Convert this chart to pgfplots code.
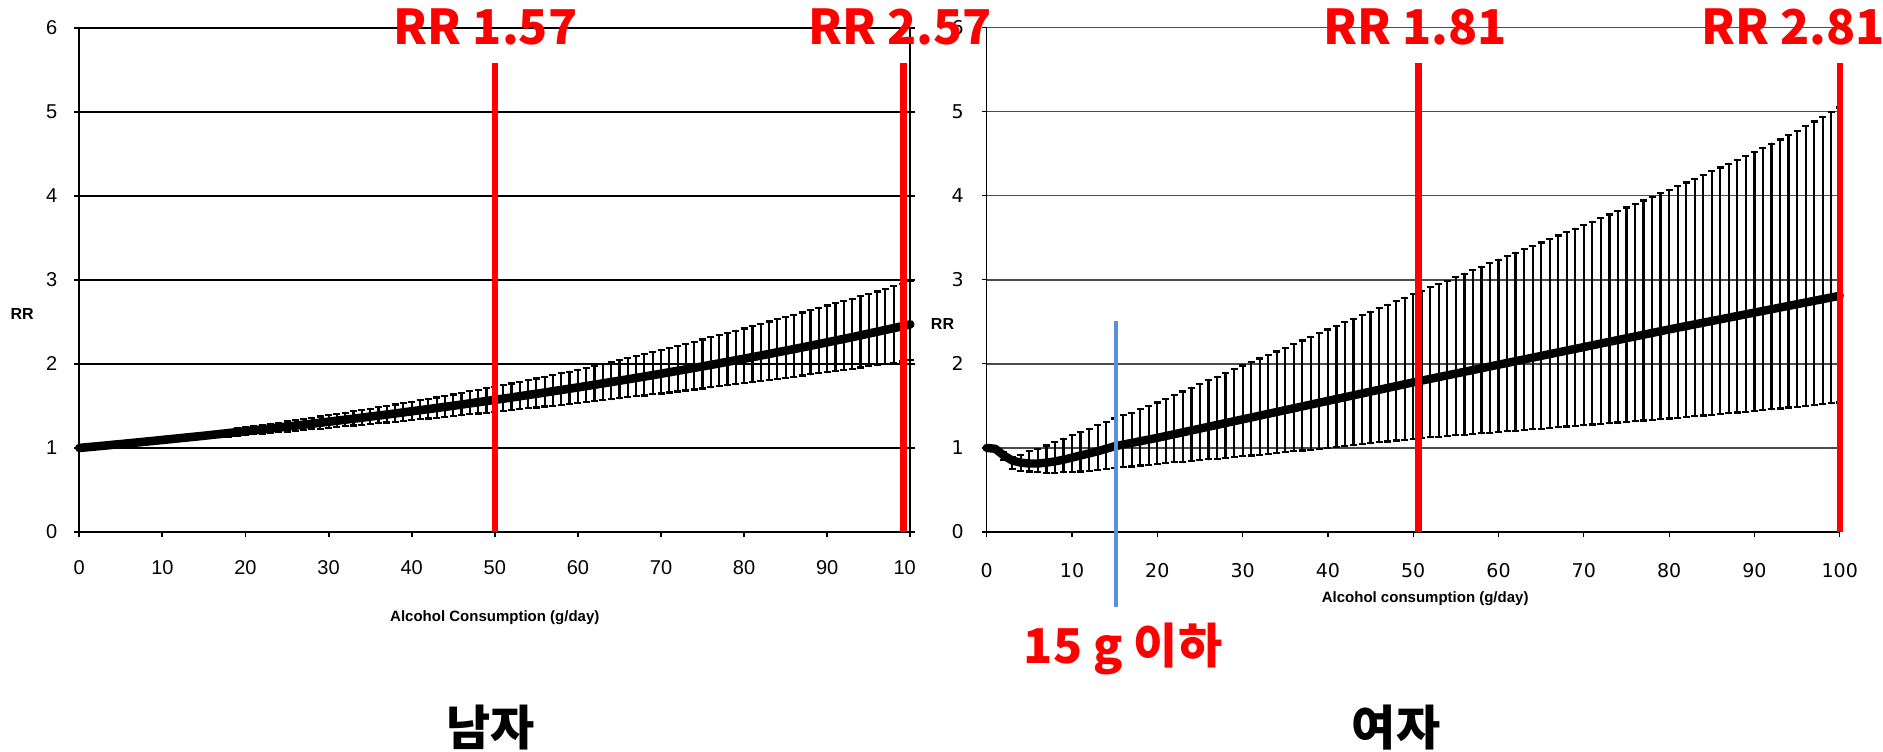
\documentclass[border=0pt]{standalone}
\usepackage{fontspec}
\setmainfont{Liberation Sans}
\newfontfamily\dejavu{DejaVu Sans}
\newfontfamily\kr{Noto Sans CJK KR}
\usepackage{pgfplots}
\usepackage{pgfplotstable}
\pgfplotsset{compat=1.18}
\definecolor{rrred}{RGB}{255,0,0}
\definecolor{lineblue}{RGB}{91,144,214}

\pgfplotstableread{
x c u l
0 1.000 1.000 1.000
1 1.009 1.011 1.007
2 1.018 1.022 1.015
3 1.027 1.034 1.022
4 1.037 1.045 1.029
5 1.046 1.056 1.036
6 1.056 1.068 1.044
7 1.065 1.080 1.051
8 1.075 1.092 1.059
9 1.085 1.104 1.066
10 1.095 1.116 1.074
11 1.105 1.128 1.082
12 1.115 1.141 1.090
13 1.125 1.153 1.097
14 1.135 1.166 1.105
15 1.145 1.178 1.113
16 1.156 1.191 1.121
17 1.166 1.205 1.129
18 1.177 1.218 1.137
19 1.188 1.231 1.145
20 1.198 1.245 1.154
21 1.209 1.259 1.162
22 1.220 1.273 1.170
23 1.231 1.287 1.179
24 1.242 1.301 1.187
25 1.254 1.315 1.195
26 1.265 1.329 1.204
27 1.277 1.344 1.213
28 1.288 1.359 1.222
29 1.300 1.374 1.230
30 1.312 1.389 1.239
31 1.324 1.404 1.248
32 1.336 1.420 1.257
33 1.348 1.435 1.266
34 1.360 1.451 1.275
35 1.373 1.467 1.284
36 1.385 1.483 1.293
37 1.397 1.500 1.303
38 1.410 1.516 1.312
39 1.423 1.533 1.321
40 1.436 1.549 1.331
41 1.449 1.566 1.340
42 1.462 1.584 1.350
43 1.475 1.601 1.360
44 1.489 1.619 1.369
45 1.502 1.636 1.379
46 1.516 1.654 1.389
47 1.530 1.673 1.399
48 1.544 1.691 1.409
49 1.558 1.710 1.419
50 1.572 1.728 1.429
51 1.586 1.747 1.439
52 1.600 1.767 1.450
53 1.615 1.786 1.460
54 1.630 1.806 1.471
55 1.644 1.825 1.481
56 1.659 1.846 1.492
57 1.675 1.866 1.503
58 1.690 1.887 1.513
59 1.705 1.907 1.524
60 1.720 1.930 1.535
61 1.736 1.953 1.546
62 1.752 1.975 1.557
63 1.768 1.998 1.568
64 1.784 2.021 1.579
65 1.800 2.044 1.591
66 1.816 2.068 1.602
67 1.833 2.092 1.614
68 1.849 2.116 1.625
69 1.866 2.140 1.637
70 1.883 2.164 1.648
71 1.900 2.189 1.660
72 1.918 2.214 1.672
73 1.935 2.239 1.684
74 1.953 2.264 1.696
75 1.970 2.290 1.708
76 1.988 2.316 1.721
77 2.006 2.342 1.733
78 2.025 2.369 1.746
79 2.043 2.395 1.758
80 2.061 2.422 1.770
81 2.080 2.449 1.783
82 2.099 2.476 1.796
83 2.118 2.503 1.809
84 2.138 2.530 1.822
85 2.157 2.557 1.835
86 2.176 2.585 1.848
87 2.196 2.612 1.861
88 2.216 2.640 1.875
89 2.236 2.667 1.888
90 2.256 2.695 1.901
91 2.277 2.722 1.915
92 2.297 2.749 1.929
93 2.318 2.776 1.943
94 2.339 2.803 1.956
95 2.361 2.830 1.971
96 2.382 2.860 1.985
97 2.404 2.891 1.999
98 2.425 2.923 2.014
99 2.447 2.954 2.028
100 2.470 2.986 2.042
}\menT

\pgfplotstableread{
x c u l
0 1.000 1.000 1.000
1 0.990 1.010 0.975
2 0.910 0.950 0.860
3 0.850 0.890 0.750
4 0.825 0.920 0.730
5 0.815 0.960 0.720
6 0.815 0.990 0.710
7 0.825 1.030 0.705
8 0.840 1.070 0.705
9 0.860 1.110 0.710
10 0.885 1.150 0.715
11 0.910 1.190 0.720
12 0.935 1.230 0.730
13 0.960 1.270 0.740
14 0.990 1.310 0.750
15 1.020 1.350 0.760
16 1.040 1.390 0.770
17 1.060 1.420 0.780
18 1.080 1.460 0.790
19 1.100 1.500 0.800
20 1.120 1.540 0.810
21 1.142 1.584 0.819
22 1.164 1.628 0.828
23 1.186 1.672 0.837
24 1.208 1.716 0.846
25 1.230 1.760 0.855
26 1.252 1.804 0.864
27 1.274 1.848 0.873
28 1.296 1.892 0.882
29 1.318 1.936 0.891
30 1.340 1.980 0.900
31 1.362 2.022 0.910
32 1.384 2.064 0.920
33 1.406 2.106 0.930
34 1.428 2.148 0.940
35 1.450 2.190 0.950
36 1.472 2.234 0.960
37 1.494 2.278 0.970
38 1.516 2.322 0.980
39 1.538 2.366 0.990
40 1.560 2.410 1.000
41 1.582 2.452 1.011
42 1.604 2.494 1.022
43 1.626 2.536 1.033
44 1.648 2.578 1.044
45 1.670 2.620 1.055
46 1.692 2.662 1.066
47 1.714 2.704 1.077
48 1.736 2.746 1.088
49 1.758 2.788 1.099
50 1.780 2.830 1.110
51 1.801 2.870 1.118
52 1.822 2.910 1.126
53 1.843 2.950 1.134
54 1.864 2.990 1.142
55 1.885 3.030 1.150
56 1.906 3.072 1.158
57 1.927 3.114 1.166
58 1.948 3.156 1.174
59 1.969 3.198 1.182
60 1.990 3.240 1.190
61 2.011 3.281 1.198
62 2.032 3.322 1.206
63 2.053 3.363 1.214
64 2.074 3.404 1.222
65 2.095 3.445 1.230
66 2.116 3.486 1.238
67 2.137 3.527 1.246
68 2.158 3.568 1.254
69 2.179 3.609 1.262
70 2.200 3.650 1.270
71 2.221 3.692 1.278
72 2.242 3.734 1.286
73 2.263 3.776 1.294
74 2.284 3.818 1.302
75 2.305 3.860 1.310
76 2.326 3.902 1.318
77 2.347 3.944 1.326
78 2.368 3.986 1.334
79 2.389 4.028 1.342
80 2.410 4.070 1.350
81 2.430 4.114 1.359
82 2.450 4.158 1.368
83 2.470 4.202 1.377
84 2.490 4.246 1.386
85 2.510 4.290 1.395
86 2.530 4.336 1.404
87 2.550 4.382 1.413
88 2.570 4.428 1.422
89 2.590 4.474 1.431
90 2.610 4.520 1.440
91 2.630 4.570 1.450
92 2.650 4.620 1.460
93 2.670 4.670 1.470
94 2.690 4.720 1.480
95 2.710 4.770 1.490
96 2.730 4.826 1.500
97 2.750 4.882 1.510
98 2.770 4.938 1.520
99 2.790 4.994 1.530
100 2.810 5.050 1.540
}\womenT

\begin{document}
\begin{tikzpicture}
\path[use as bounding box] (0,0) rectangle (941.5pt,375.5pt);

% ---------------- Men ----------------
\begin{axis}[
  at={(39.65pt,109.5pt)}, anchor=south west,
  scale only axis, width=415.5pt, height=252.2pt,
  xmin=0, xmax=100, ymin=0, ymax=6,
  xtick={0,10,...,100}, ytick={0,1,...,6},
  xtick pos=bottom, ytick pos=both, yticklabel pos=left,
  tick align=outside, major tick length=2.5pt,
  tick style={black, line width=0.9pt},
  axis line style={black, line width=0.9pt},
  ymajorgrids, grid style={black, line width=1pt},
  /pgf/number format/assume math mode=true,
  ticklabel style={font=\fontsize{10}{12}\selectfont},
  xticklabel style={yshift=-8.2pt},
  yticklabel style={xshift=-5pt},
  xlabel={Alcohol Consumption (g/day)},
  ylabel={RR},
  every axis x label/.style={at={(axis description cs:0.5,0)}, anchor=center, yshift=-43pt, font=\bfseries\fontsize{7.5}{9}\selectfont},
  every axis y label/.style={at={(axis description cs:-0.0687,0.432)}, anchor=center, font=\bfseries\fontsize{8}{9}\selectfont},
  clip=false,
]
\addplot[black, line width=4.3pt, line cap=round, line join=round, mark=none,
  error bars/.cd, y dir=both, y explicit,
  error bar style={line width=1.1pt, black},
  error mark options={rotate=90, mark size=1.75pt, line width=1.1pt, black}]
  table[x=x, y=c, y error plus expr=\thisrow{u}-\thisrow{c}, y error minus expr=\thisrow{c}-\thisrow{l}] {\menT};
\addplot[rrred, line width=3.2pt, mark=none] coordinates {(50,0) (50,5.575)};
\addplot[rrred, line width=3.2pt, mark=none] coordinates {(99.2,0) (99.2,5.575)};
\end{axis}

\fill[white] (458pt,80pt) rectangle (492pt,101pt);

% ---------------- Women ----------------
\begin{axis}[
  at={(493.35pt,109.5pt)}, anchor=south west,
  scale only axis, width=426.5pt, height=252.2pt,
  xmin=0, xmax=100, ymin=0, ymax=6,
  xtick={0,10,...,100}, ytick={0,1,...,6},
  axis lines*=left,
  tick align=outside, major tick length=2.5pt,
  tick style={black, line width=0.6pt},
  axis line style={black, line width=0.6pt},
  ymajorgrids, grid style={black!70, line width=0.7pt},
  /pgf/number format/assume math mode=true,
  ticklabel style={font=\dejavu\fontsize{9.5}{11}\selectfont},
  xticklabel style={yshift=-9.7pt},
  yticklabel style={xshift=-5.5pt},
  xlabel={Alcohol consumption (g/day)},
  ylabel={RR},
  every axis x label/.style={at={(axis description cs:0.514,0)}, anchor=center, yshift=-33.5pt, font=\bfseries\fontsize{7.5}{9}\selectfont},
  every axis y label/.style={at={(axis description cs:-0.0518,0.413)}, anchor=center, font=\bfseries\fontsize{8}{9}\selectfont},
  clip=false,
]
\addplot[black, line width=4.2pt, line cap=round, line join=round, mark=none,
  error bars/.cd, y dir=both, y explicit,
  error bar style={line width=1.1pt, black},
  error mark options={rotate=90, mark size=1.75pt, line width=1.1pt, black}]
  table[x=x, y=c, y error plus expr=\thisrow{u}-\thisrow{c}, y error minus expr=\thisrow{c}-\thisrow{l}] {\womenT};
\addplot[rrred, line width=3.2pt, mark=none] coordinates {(50.6,0) (50.6,5.575)};
\addplot[rrred, line width=3.2pt, mark=none] coordinates {(100,0) (100,5.575)};
\addplot[lineblue, line width=2pt, mark=none] coordinates {(15.2,-0.89) (15.2,2.515)};
\end{axis}

% ---------------- Annotations ----------------
\tikzset{rrlab/.style={font=\kr\bfseries\fontsize{24}{28}\selectfont, text=rrred, anchor=base, inner sep=0pt}}
\node[rrlab] at (242.8pt,353pt) {RR 1.57};
\node[rrlab] at (450pt,353pt) {RR 2.57};
\node[rrlab] at (707.5pt,353pt) {RR 1.81};
\node[rrlab] at (896.5pt,353pt) {RR 2.81};
\node[rrlab] at (561.5pt,43.85pt) {15 g 이하};
\node[font=\kr\bfseries\fontsize{24}{28}\selectfont, anchor=base, inner sep=0pt] at (245.3pt,2.7pt) {남자};
\node[font=\kr\bfseries\fontsize{24}{28}\selectfont, anchor=base, inner sep=0pt] at (698pt,2.7pt) {여자};
\end{tikzpicture}
\end{document}
